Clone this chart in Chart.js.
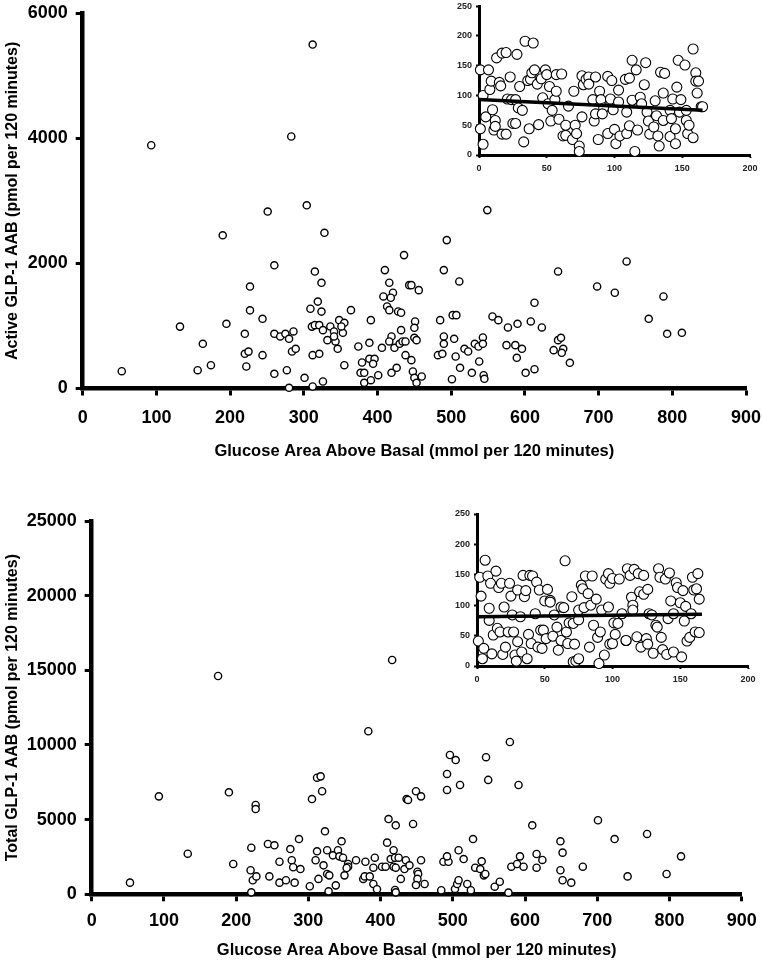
<!DOCTYPE html>
<html lang="en">
<head>
<meta charset="UTF-8" />
<title>GLP-1 AAB versus glucose area above basal</title>
<script src="https://cdn.jsdelivr.net/npm/chart.js"></script>
<style>
  body { margin: 0; background: #fff; overflow: hidden; }
  #wrap { position: relative; width: 762px; height: 966px; }
  canvas { position: absolute; }
</style>
</head>
<body>
<div id="wrap">
  <canvas id="activeChart" width="762" height="480" style="left:0px;top:0px"></canvas>
  <canvas id="activeInset" width="322" height="180" style="left:440px;top:0px"></canvas>
  <canvas id="totalChart" width="762" height="486" style="left:0px;top:480px"></canvas>
  <canvas id="totalInset" width="322" height="190" style="left:440px;top:500px"></canvas>
</div>
<script>
// top panel: active GLP-1 vs glucose
const activeGlucose = [53,93,312,283,132,163,156,174,190,195,251,260,227,227,220,244,220,225,222,244,260,268,275,280,286,284,289,260,277,280,
  304,328,315,324,319,309,324,311,315,321,326,332,336,341,343,346,348,353,355,351,341,364,312,321,355,301,312,326,374,389,
  391,379,389,396,394,377,382,382,391,401,406,410,408,416,421,418,413,416,428,432,436,443,446,456,432,419,416,423,430,434,
  438,451,450,450,453,438,446,426,419,448,450,453,460,494,490,511,502,507,485,490,490,504,482,488,506,512,501,518,523,528,
  532,537,538,549,738,698,722,788,645,613,768,793,813,556,564,577,590,608,623,543,543,544,545,575,587,596,589,601,613,639,
  645,649,652,650,661];
const activeGLP1 = [277,3890,5500,4030,990,715,293,373,2450,1035,2830,1970,1630,1250,875,1115,555,590,352,533,875,832,875,795,912,592,635,235,293,11,
  2930,2490,1870,1690,1390,1275,1230,990,1013,1013,933,773,992,912,752,635,1093,891,1051,992,832,1253,533,555,373,171,32,112,672,731,
  1093,416,475,475,395,251,251,91,133,213,651,1893,1472,1691,1531,1451,1312,1253,1232,1211,2133,1653,1653,1573,933,832,752,651,715,752,
  752,1072,971,811,773,533,453,331,251,272,171,91,192,2373,1893,1712,1173,1173,1093,832,715,795,533,555,512,331,149,635,592,251,
  715,672,432,2853,2032,1632,1531,1472,1872,1371,1115,875,891,1152,1093,976,1035,1072,976,816,715,213,155,693,693,635,491,251,309,613,
  773,811,635,571,411];

// top inset (0-200 / 0-250) with its fitted line
const activeInsetX = [1,3,1,3,7,8,9,5,10,11,12,12,13,15,16,17,17,20,20,21,23,24,25,27,27,28,30,29,32,33,34,36,38,37,39,40,41,43,44,46,
  47,49,50,52,51,53,54,56,57,57,61,59,62,64,64,66,70,69,71,72,74,74,76,76,77,79,81,81,84,85,86,86,88,89,90,92,91,95,97,95,
  98,99,100,101,103,103,104,108,109,109,111,111,113,113,115,116,117,119,120,122,123,124,125,126,129,130,131,132,133,134,137,136,136,141,141,142,143,145,145,146,
  147,149,148,152,153,153,154,155,158,158,160,160,161,162,164,165];
const activeInsetY = [143,100,44,18,143,110,124,64,76,42,58,48,163,122,116,171,35,172,35,94,131,93,53,53,93,169,115,79,75,22,191,125,127,44,138,188,143,119,51,128,
  96,143,135,115,86,57,75,93,135,107,136,60,32,33,50,82,107,26,50,36,15,6,64,133,118,127,131,119,93,57,69,131,26,107,93,79,69,132,94,36,
  125,76,43,19,89,109,32,127,72,36,129,49,159,92,6,143,42,97,86,118,155,72,57,35,47,91,66,32,15,139,137,104,58,31,75,61,94,44,19,114,
  159,93,72,151,75,58,36,50,29,178,138,124,104,124,81,81];
const activeTrendX = [0, 165];
const activeTrendY = [93, 75];

// bottom panel: total GLP-1 vs glucose
const totalGlucose = [53,93,133,175,190,196,221,227,227,220,223,228,221,246,244,253,260,260,269,275,277,279,281,289,287,302,305,312,317,319,
  323,312,310,321,326,314,326,329,328,338,334,341,343,346,348,355,355,353,350,366,379,392,390,376,378,385,390,395,383,402,
  407,409,411,418,414,420,425,416,421,418,421,428,420,421,435,433,440,436,438,449,456,445,456,451,452,451,449,461,484,496,
  504,492,492,487,494,492,503,506,508,508,510,579,546,549,591,610,528,515,540,531,538,543,545,520,525,558,565,577,581,589,
  598,593,616,624,616,649,652,649,652,664,680,701,724,769,742,796,816];
const totalGLP1 = [780,6560,2720,14620,6830,2030,3120,5980,5710,1610,940,1200,130,1200,3370,3280,2180,780,940,3030,2280,1810,780,1690,3700,540,6380,7810,7900,6900,
  4220,2880,2280,1940,2950,1030,1360,1270,200,600,2610,2950,2540,3550,2450,2030,1850,1760,1270,2280,2180,2450,1780,1030,1200,1200,690,340,10920,1850,
  1850,3460,5040,2950,2360,2450,2450,15690,4620,1850,1780,1030,290,130,2280,1690,1940,6380,6320,6900,6560,4710,2280,1510,1360,1030,620,690,270,9330,
  8990,8060,6990,2180,2180,2540,360,690,940,2950,7320,10200,9180,7660,7320,4620,3700,2360,2210,1780,1690,1270,1360,690,270,510,840,110,1850,2030,
  1850,2540,2700,2300,1780,3550,2790,1610,940,780,1850,4960,3700,4040,1200,1360,2540];

// bottom inset
const totalInsetX = [1,2,3,4,5,6,8,9,9,10,11,12,14,15,16,17,18,19,20,21,23,24,25,26,27,28,29,30,30,32,33,34,35,36,37,38,39,40,41,43,
  44,45,46,47,48,49,50,51,52,54,54,56,57,59,60,62,62,64,65,66,67,68,70,71,71,72,73,75,75,75,77,78,79,80,82,83,84,85,86,88,
  89,90,91,92,94,95,97,97,98,98,100,100,101,102,104,105,107,110,110,111,113,114,115,115,116,118,119,120,121,123,123,125,126,126,127,129,130,132,133,134,
  135,136,137,139,140,141,142,143,145,145,147,148,150,151,152,153,154,155,157,158,159,160,161,162,163,164,164];
const totalInsetY = [41,146,115,12,29,174,148,95,75,136,20,51,156,62,129,56,136,19,97,31,56,136,115,84,56,18,8,40,125,81,23,149,114,124,12,52,149,37,148,86,
  138,31,125,59,29,59,107,45,126,108,105,49,84,64,26,42,97,96,173,56,37,71,114,7,70,36,8,12,76,92,133,127,96,148,119,31,100,148,67,110,
  47,4,56,92,18,143,152,97,136,36,144,37,71,52,70,143,86,42,42,160,149,113,100,92,159,48,152,122,31,149,118,45,126,36,86,84,21,67,64,160,
  146,47,27,143,19,78,153,107,86,23,137,129,104,15,124,74,98,41,47,86,146,125,56,127,152,55,110];
const totalTrendX = [0, 166];
const totalTrendY = [81, 85];

const arial = "'Liberation Sans', Arial, sans-serif";

const pts = (xs, ys) => xs.map((x, i) => ({ x: x, y: ys[i] }));

function axis(o) {
  return {
    type: "linear",
    min: o.min,
    max: o.max,
    ticks: { stepSize: o.step, padding: o.pad, color: o.color || "#000",
      font: { family: arial, size: o.size, weight: "bold" },
      callback: (v) => String(v) },
    grid: { drawOnChartArea: false, tickLength: o.tick, tickWidth: o.tickW, tickColor: "#000" },
    border: { color: "#000", width: o.border },
    title: o.title ? { display: true, text: o.title, color: "#000",
      font: { family: arial, size: o.tSize, weight: "bold" }, padding: o.tPad } : { display: false },
    afterFit: o.fit,
  };
}

// fixed box sizes, and no extra room for overhanging labels
const fitX = (h) => (s) => { s.height = h; s.paddingLeft = 0; s.paddingRight = 0; };
const fitY = (w) => (s) => { s.width = w; s.paddingTop = 0; s.paddingBottom = 0; };

function mainChart(id, xs, ys, yMax, yStep, yTitle, box) {
  return new Chart(document.getElementById(id), {
    type: "scatter",
    data: { datasets: [{
      data: pts(xs, ys),
      backgroundColor: "#fff", borderColor: "#000",
      pointRadius: 3.6, borderWidth: 1.4, clip: false,
    }] },
    options: {
      responsive: false, animation: false, devicePixelRatio: 1,
      layout: { padding: { left: 0, top: box.top, right: box.right, bottom: 0 } },
      plugins: { legend: { display: false }, tooltip: { enabled: false } },
      scales: {
        x: axis({ min: 0, max: 900, step: 100, pad: box.xPad, size: 18, tick: 7, tickW: 3, border: 4.5,
          title: "Glucose Area Above Basal (mmol per 120 minutes)", tSize: 16.5,
          tPad: { top: 0, bottom: box.xTitle }, fit: fitX(box.xh) }),
        y: axis({ min: 0, max: yMax, step: yStep, pad: 8, size: 18, tick: 7, tickW: 3, border: 4.5,
          title: yTitle, tSize: 16,
          tPad: { top: 2.5, bottom: 0 }, fit: fitY(box.yw) }),
      },
    },
  });
}

function insetChart(id, xs, ys, tx, ty, box) {
  return new Chart(document.getElementById(id), {
    type: "scatter",
    data: { datasets: [
      { type: "line", data: pts(tx, ty), borderColor: "#000", borderWidth: 3.5,
        pointRadius: 0, fill: false, order: 0, clip: false },
      { data: pts(xs, ys), backgroundColor: "#fff", borderColor: "#000",
        pointRadius: 5, borderWidth: 1.1, order: 1, clip: false },
    ] },
    options: {
      responsive: false, animation: false, devicePixelRatio: 1,
      layout: { padding: { left: 0, top: box.top, right: box.right, bottom: 0 } },
      plugins: { legend: { display: false }, tooltip: { enabled: false } },
      scales: {
        x: axis({ min: 0, max: 200, step: 50, pad: 5, size: 9, color: "#222", tick: 3, tickW: 2, border: 3,
          fit: fitX(box.xh) }),
        y: axis({ min: 0, max: 250, step: 50, pad: 4, size: 9, color: "#222", tick: 3, tickW: 2, border: 3,
          fit: fitY(box.yw) }),
      },
    },
  });
}

mainChart("activeChart", activeGlucose, activeGLP1, 6000, 2000, "Active GLP-1 AAB (pmol per 120 minutes)",
  { top: 13.3, right: 16, xh: 91.5, yw: 82.7, xPad: 12, xTitle: 19 });
mainChart("totalChart", totalGlucose, totalGLP1, 25000, 5000, "Total GLP-1 AAB (pmol per 120 minutes)",
  { top: 41, right: 20.3, xh: 71.7, yw: 91.7, xPad: 9, xTitle: 6 });
insetChart("activeInset", activeInsetX, activeInsetY, activeTrendX, activeTrendY,
  { top: 5, right: 12, xh: 25, yw: 39 });
insetChart("totalInset", totalInsetX, totalInsetY, totalTrendX, totalTrendY,
  { top: 14, right: 14, xh: 24, yw: 37 });
</script>
</body>
</html>
